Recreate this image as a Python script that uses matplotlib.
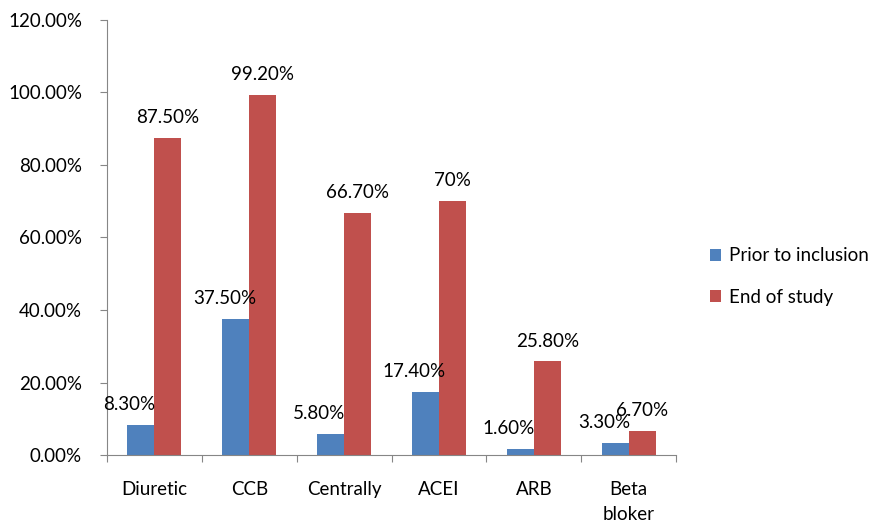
import numpy as np
import matplotlib.pyplot as plt

plt.rcParams['font.family'] = ['Lato', 'DejaVu Sans']

categories = ['Diuretic', 'CCB', 'Centrally', 'ACEI', 'ARB', 'Beta\nbloker']
prior = [8.3, 37.5, 5.8, 17.4, 1.6, 3.3]
end = [87.5, 99.2, 66.7, 70.0, 25.8, 6.7]
prior_labels = ['8.30%', '37.50%', '5.80%', '17.40%', '1.60%', '3.30%']
end_labels = ['87.50%', '99.20%', '66.70%', '70%', '25.80%', '6.70%']

blue = '#4F81BD'
red = '#C0504D'
axis_grey = '#868686'
fs = 13.5

fig = plt.figure(figsize=(8.92, 5.25), dpi=100)
ax = fig.add_axes([0.12, 0.1333, 0.638, 0.8287])

x = np.arange(len(categories))
w = 0.285
ax.bar(x - w / 2, prior, w, color=blue, label='Prior to inclusion')
ax.bar(x + w / 2, end, w, color=red, label='End of study')

for xi, v, s in zip(x, prior, prior_labels):
    ax.text(xi - w / 2 - 0.12, v + 3.3, s, ha='center', va='bottom', fontsize=fs)
for xi, v, s in zip(x, end, end_labels):
    ax.text(xi + w / 2, v + 3.3, s, ha='center', va='bottom', fontsize=fs)

ax.set_xlim(-0.5, len(categories) - 0.5)
ax.set_ylim(0, 120)
ax.set_yticks(np.arange(0, 121, 20))
ax.set_yticklabels([f'{v:.2f}%' for v in np.arange(0, 121, 20)], fontsize=fs)

# category labels sit between boundary ticks
ax.set_xticks(np.arange(-0.5, len(categories), 1.0))
ax.set_xticklabels([])
ax.set_xticks(x, minor=True)
ax.set_xticklabels(categories, minor=True, fontsize=fs, linespacing=1.55)
ax.tick_params(axis='x', which='minor', length=0, pad=19)
ax.tick_params(axis='x', which='major', length=5, color=axis_grey, direction='out')
ax.tick_params(axis='y', length=5, color=axis_grey, direction='out', pad=13)

for side in ['top', 'right']:
    ax.spines[side].set_visible(False)
for side in ['left', 'bottom']:
    ax.spines[side].set_color(axis_grey)

ax.legend(loc='center left', bbox_to_anchor=(1.03, 0.41), frameon=False,
          fontsize=fs, handlelength=0.6, handleheight=0.6,
          labelspacing=1.3, handletextpad=0.4)

fig.savefig('out.png', dpi=100)
